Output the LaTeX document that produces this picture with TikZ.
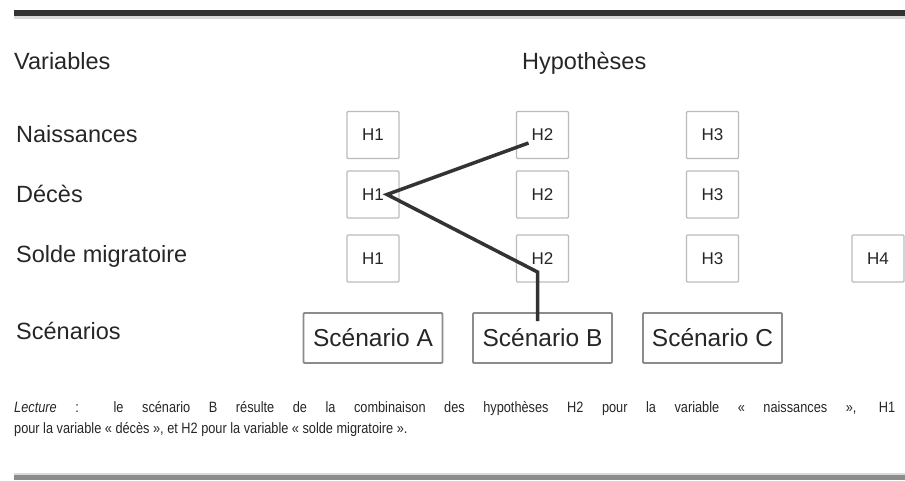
\documentclass[tikz,border=0pt]{standalone}
\usepackage{fontspec}
\setmainfont{Liberation Sans}
\newfontfamily\lectfont[FakeStretch=0.85]{Liberation Sans}
\usepackage{xcolor}
\definecolor{rule}{HTML}{333333}
\definecolor{boxline}{HTML}{BBBBBB}
\definecolor{scenline}{HTML}{8C8C8C}

\begin{document}
\begin{tikzpicture}[x=1pt,y=-1pt,
		label/.style={anchor=base west,inner sep=0pt,font=\fontsize{23.5}{26}\selectfont,text=black!85},
		hyp/.style={draw=boxline,line width=1.3pt,rounded corners=1pt,minimum width=52pt,minimum height=47pt,inner sep=0pt,font=\fontsize{17}{20}\selectfont,text=black!85},
		scen/.style={draw=scenline,line width=1.8pt,rounded corners=1pt,minimum width=139pt,minimum height=50pt,inner sep=0pt,font=\fontsize{24.5}{27}\selectfont,text=black!85},
		path/.style={draw=rule,line width=3.5pt,line join=miter},
		lect/.style={anchor=base west,inner sep=0pt,font=\lectfont\fontsize{15}{18}\selectfont,text=black!85}]
			\useasboundingbox (0,0) rectangle (905,480);
			% rules
			\fill [rule] (14,9.5) rectangle (905,15.5);
			\fill [black!15] (14,15.5) rectangle (905,19);
			\fill [black!15] (14,472.5) rectangle (905,475);
			\fill [black!45] (14,475) rectangle (905,480);
			% headings
			\node [label] (variables) at (14,69) {Variables};
			\node [label] (hypotheses) at (522,69) {Hypothèses};
			\node [label] (naissances) at (16,142) {Naissances};
			\node [label] (deces) at (16,202) {Décès};
			\node [label] (solde) at (16,262) {Solde migratoire};
			\node [label] (scenarios) at (16,339) {Scénarios};
			% hypotheses
			\node [hyp] (n1) at (373,135) {H1};
			\node [hyp] (n2) at (542.5,135) {H2};
			\node [hyp] (n3) at (712.5,135) {H3};
			\node [hyp] (d1) at (373,194.5) {H1};
			\node [hyp] (d2) at (542.5,194.5) {H2};
			\node [hyp] (d3) at (712.5,194.5) {H3};
			\node [hyp] (s1) at (373,258.5) {H1};
			\node [hyp] (s2) at (542.5,258.5) {H2};
			\node [hyp] (s3) at (712.5,258.5) {H3};
			\node [hyp] (s4) at (878,258.5) {H4};
			% scenarios
			\node [scen] (scA) at (373,338) {Scénario A};
			\node [scen] (scB) at (542.5,338) {Scénario B};
			\node [scen] (scC) at (712.5,338) {Scénario C};
			% scenario B
			\coordinate (pn) at ([shift={(-14,8)}]n2.center);
			\coordinate (pd) at ([shift={(14,0)}]d1.center);
			\coordinate (ps) at ([shift={(-5,13.5)}]s2.center);
			\coordinate (pb) at ([shift={(-5,9)}]scB.north);
			\draw [path] (pn) -- (pd) -- (ps) -- (pb);
			% reading note
			\node [lect] (lecture1) at (14,412) {\makebox[881pt][s]{\textit{Lecture} : le scénario B résulte de la combinaison des hypothèses H2 pour la variable « naissances », H1}};
			\node [lect] (lecture2) at (14,433) {pour la variable « décès », et H2 pour la variable « solde migratoire ».};
		\end{tikzpicture}
\end{document}
